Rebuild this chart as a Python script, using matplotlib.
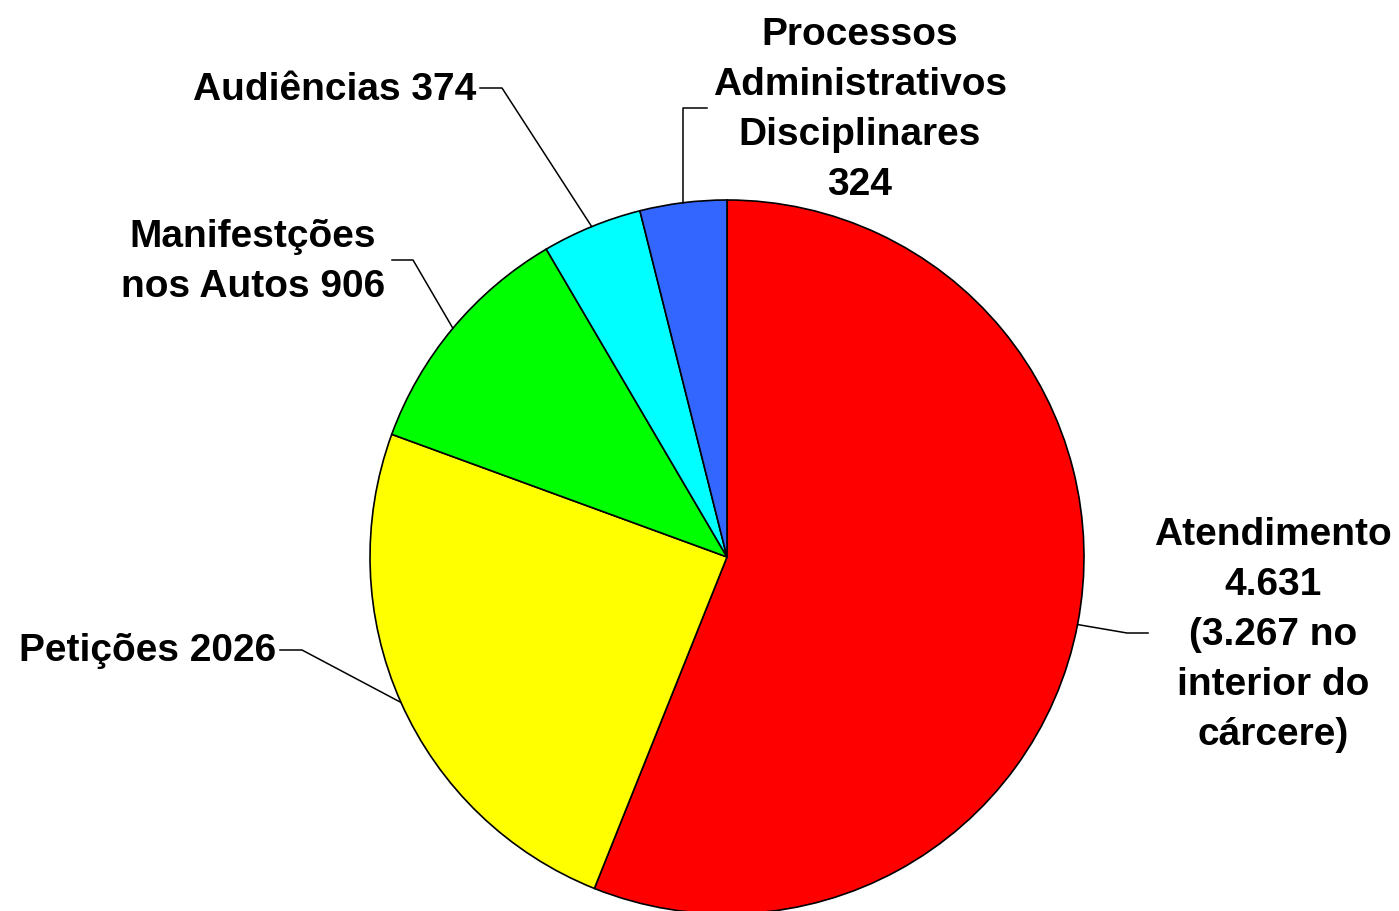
import numpy as np
import matplotlib
matplotlib.use("Agg")
import matplotlib.pyplot as plt

# dados
categorias = ["Atendimento", "Petições", "Manifestções nos Autos", "Audiências",
              "Processos Administrativos Disciplinares"]
valores = [4631, 2026, 906, 374, 324]
rotulos = ["Atendimento\n4.631\n(3.267 no\ninterior do\ncárcere)",
           "Petições 2026",
           "Manifestções\nnos Autos 906",
           "Audiências 374",
           "Processos\nAdministrativos\nDisciplinares\n324"]
cores = ["#FF0000", "#FFFF00", "#00FF00", "#00FFFF", "#3366FF"]

W, H = 1399, 912

def px(x, y):  # pixel coords (top-left origin) -> data coords
    return x, H - y

plt.rcParams['font.family'] = ['Liberation Sans', 'DejaVu Sans']
fig = plt.figure(figsize=(W / 100, H / 100), dpi=100)
ax = fig.add_axes([0, 0, 1, 1])

cx, cy = px(727, 558)
R = 357
wedges, _ = ax.pie(valores, colors=cores, startangle=90, counterclock=False,
                   center=(cx, cy), radius=R,
                   wedgeprops=dict(edgecolor="black", linewidth=1.2))
ax.set_xlim(0, W)
ax.set_ylim(0, H)
ax.set_aspect('equal')
ax.axis('off')

# label text positions and leader elbows (layout, in pixels)
texto = [
    dict(pos=(1273, 635), ha="center", elbow=[(1127, 634), (1148, 634)]),
    dict(pos=(276, 651), ha="right", elbow=[(302, 651), (280, 651)]),
    dict(pos=(253, 262), ha="center", elbow=[(413, 261), (392, 261)]),
    dict(pos=(476, 90), ha="right", elbow=[(502, 89), (480, 89)]),
    dict(pos=(860, 110), ha="center", elbow=[None, (707, 109)]),
]

for w, lab, t in zip(wedges, rotulos, texto):
    mid = np.deg2rad((w.theta1 + w.theta2) / 2)
    x0 = cx + R * np.cos(mid)
    y0 = cy + R * np.sin(mid)
    e1, e2 = t["elbow"]
    if e1 is None:
        e1 = (x0, H - e2[1])
    else:
        e1 = px(*e1)
    e2 = px(*e2)
    ax.plot([x0, e1[0], e2[0]], [y0, e1[1], e2[1]], color="black", lw=1.1)
    tx, ty = px(*t["pos"])
    ax.text(tx, ty, lab, ha=t["ha"], va="center", multialignment="center",
            fontsize=28, fontweight="bold", linespacing=1.5)

fig.savefig("out.png", dpi=100)
